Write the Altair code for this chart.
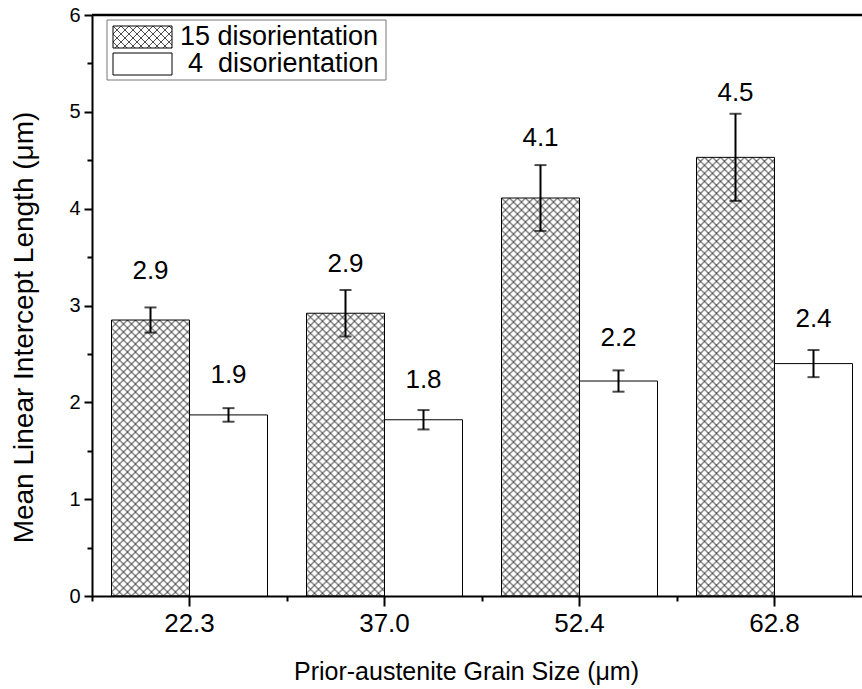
import urllib.parse
import altair as alt
import pandas as pd

# ---- data ----
grain_sizes = ["22.3", "37.0", "52.4", "62.8"]
series = ["15", "4"]
legend_labels = ["15 disorientation", "4\u00a0\u00a0disorientation"]

hagb_means = [2.85, 2.92, 4.11, 4.53]
hagb_errors = [0.13, 0.24, 0.34, 0.45]
hagb_labels = ["2.9", "2.9", "4.1", "4.5"]

lagb_means = [1.87, 1.82, 2.22, 2.40]
lagb_errors = [0.07, 0.10, 0.11, 0.14]
lagb_labels = ["1.9", "1.8", "2.2", "2.4"]

y_ticks = [0, 1, 2, 3, 4, 5, 6]
y_minor_ticks = [0.5, 1.5, 2.5, 3.5, 4.5, 5.5]

rows = []
for i, g in enumerate(grain_sizes):
    rows.append(dict(size=g, series=series[0], mean=hagb_means[i], err=hagb_errors[i], label=hagb_labels[i]))
    rows.append(dict(size=g, series=series[1], mean=lagb_means[i], err=lagb_errors[i], label=lagb_labels[i]))
df = pd.DataFrame(rows)
df["lo"] = df["mean"] - df["err"]
df["hi"] = df["mean"] + df["err"]

# cross-hatch tile used as the fill of the hatched bars
hatch_svg = (
    "<svg xmlns='http://www.w3.org/2000/svg' width='100%' height='100%'>"
    "<defs><pattern id='h' width='8' height='8' patternUnits='userSpaceOnUse'>"
    "<path d='M0,0L8,8M8,0L0,8' stroke='#3a3a3a' stroke-width='0.9'/></pattern></defs>"
    "<rect width='100%' height='100%' fill='url(#h)'/></svg>"
)
hatch_uri = "data:image/svg+xml;charset=utf-8," + urllib.parse.quote(hatch_svg)

FONT = "Liberation Sans"
PLOT_W = 770
PLOT_H = 581
BAND_RANGE = 780

x_scale = alt.Scale(domain=grain_sizes, range=[0, BAND_RANGE], paddingInner=0.2, paddingOuter=0.1)
xo_scale = alt.Scale(domain=series, paddingInner=0, paddingOuter=0)
y_scale = alt.Scale(domain=[0, 6], nice=False, zero=True)

main_x_axis = alt.Axis(
    orient="bottom", title="Prior-austenite Grain Size (\u03bcm)", labelAngle=0,
    labelFontSize=26, labelFont=FONT, labelColor="black", labelPadding=25,
    labelBaseline="alphabetic", tickSize=10, tickWidth=2, tickColor="black",
    domainWidth=2, domainColor="black", grid=False,
    titleFontSize=25, titleFont=FONT, titleFontWeight="normal", titleColor="black",
    titleBaseline="alphabetic", titleX=374, titleY=83,
)
minor_x_axis = alt.Axis(
    orient="bottom", title=None, labels=False, domain=False, grid=False,
    tickSize=5, tickWidth=2, tickColor="black", bandPosition=0, tickOffset=-19.5,
)
main_y_axis = alt.Axis(
    orient="left", values=y_ticks, format="d", title="Mean Linear Intercept Length (\u03bcm)",
    labelFontSize=20, labelFont=FONT, labelColor="black", labelPadding=4,
    tickSize=8, tickWidth=2, tickColor="black", domainWidth=2, domainColor="black", grid=False,
    titleFontSize=28, titleFont=FONT, titleFontWeight="normal", titleColor="black",
    titleBaseline="alphabetic", titleX=-60, titleY=312, titleAngle=-90, titleAlign="center",
)
minor_y_axis = alt.Axis(
    orient="left", values=y_minor_ticks, title=None, labels=False, domain=False, grid=False,
    tickSize=5, tickWidth=2, tickColor="black",
)

base = alt.Chart(df)
X = lambda axis: alt.X("size:N", sort=grain_sizes, scale=x_scale, axis=axis)
XO = alt.XOffset("series:N", sort=series, scale=xo_scale)

hatch = base.transform_filter(alt.datum.series == series[0]).mark_image(aspect=False).encode(
    x=X(minor_x_axis), xOffset=XO,
    y=alt.Y("mean:Q", scale=y_scale, axis=minor_y_axis), y2=alt.datum(0),
    url=alt.value(hatch_uri),
)

bars = base.mark_bar(stroke="black", strokeWidth=1).encode(
    x=X(main_x_axis), xOffset=XO,
    y=alt.Y("mean:Q", scale=y_scale, axis=main_y_axis),
    fill=alt.Fill("series:N", scale=alt.Scale(domain=series, range=["transparent", "white"]), legend=None),
)

err_rule = base.mark_rule(color="black", strokeWidth=2).encode(
    x=X(None), xOffset=XO,
    y=alt.Y("lo:Q", scale=y_scale, axis=None), y2="hi:Q",
)
cap_lo = base.mark_tick(color="black", size=12, thickness=2).encode(
    x=X(None), xOffset=XO, y=alt.Y("lo:Q", scale=y_scale, axis=None),
)
cap_hi = base.mark_tick(color="black", size=12, thickness=2).encode(
    x=X(None), xOffset=XO, y=alt.Y("hi:Q", scale=y_scale, axis=None),
)
labels = base.transform_calculate(label_y="1.094*datum.mean + 0.155").mark_text(
    font=FONT, fontSize=26, color="black", baseline="alphabetic", align="center"
).encode(
    x=X(None), xOffset=XO, y=alt.Y("label_y:Q", scale=y_scale, axis=None), text="label:N",
)

top_border = alt.Chart(pd.DataFrame({"top": [6]})).mark_rule(color="black", strokeWidth=2.5).encode(
    y=alt.Y("top:Q", scale=y_scale, axis=None)
)

# ---- legend box ----
one = pd.DataFrame({"label": [legend_labels[0]]})
two = pd.DataFrame({"label": [legend_labels[1]]})
leg_box = alt.Chart(one).mark_rect(fill="white", stroke="#777777", strokeWidth=1).encode(
    x=alt.value(15), x2=alt.value(294), y=alt.value(5), y2=alt.value(65)
)
leg_hatch = alt.Chart(one).mark_image(aspect=False).encode(
    x=alt.value(21), x2=alt.value(80), y=alt.value(11), y2=alt.value(33), url=alt.value(hatch_uri)
)
leg_sw1 = alt.Chart(one).mark_rect(fill="transparent", stroke="black", strokeWidth=1).encode(
    x=alt.value(21), x2=alt.value(80), y=alt.value(11), y2=alt.value(33)
)
leg_sw2 = alt.Chart(two).mark_rect(fill="white", stroke="black", strokeWidth=1).encode(
    x=alt.value(21), x2=alt.value(80), y=alt.value(38), y2=alt.value(60)
)
leg_t1 = alt.Chart(one).mark_text(font=FONT, fontSize=27, align="left", baseline="alphabetic", color="black").encode(
    x=alt.value(88), y=alt.value(30), text="label:N"
)
leg_t2 = alt.Chart(two).mark_text(font=FONT, fontSize=27, align="left", baseline="alphabetic", color="black").encode(
    x=alt.value(96), y=alt.value(57), text="label:N"
)

chart = alt.layer(
    hatch, bars, err_rule, cap_lo, cap_hi, labels, top_border,
    leg_box, leg_hatch, leg_sw1, leg_sw2, leg_t1, leg_t2,
).resolve_axis(x="independent", y="independent").properties(
    width=PLOT_W, height=PLOT_H,
    autosize=alt.AutoSizeParams(type="none"),
    padding={"left": 92, "top": 15, "right": 0, "bottom": 93},
    background="white",
).configure_view(stroke=None).configure(font=FONT)

chart.save("out.html", embed_options={"renderer": "svg", "actions": False})
